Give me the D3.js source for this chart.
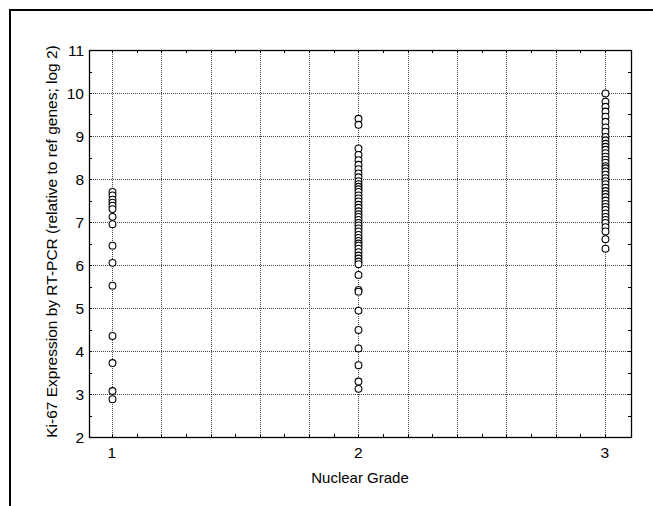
<!DOCTYPE html>
<html><head><meta charset="utf-8">
<script src="https://cdn.jsdelivr.net/npm/d3@7/dist/d3.min.js"></script>
<style>body{margin:0;background:#fff}svg{display:block}text{font-family:"Liberation Sans",Arial,sans-serif;fill:#000}</style>
</head><body>
<script>
const grades = [1, 2, 3];
const grade1 = [7.70, 7.62, 7.52, 7.45, 7.38, 7.30, 7.12, 6.95, 6.45, 6.05, 5.52, 4.35, 3.72, 3.07, 2.88];
const grade2 = [9.40, 9.26, 8.71, 8.56, 8.44, 8.33, 8.23, 8.13, 8.04, 7.95, 7.88, 7.82, 7.76, 7.70, 7.62, 7.55, 7.48, 7.40, 7.33, 7.25, 7.18, 7.12, 7.05, 6.98, 6.92, 6.85, 6.78, 6.70, 6.63, 6.56, 6.50, 6.45, 6.38, 6.30, 6.22, 6.15, 6.08, 6.02, 5.77, 5.42, 5.38, 4.94, 4.49, 4.06, 3.67, 3.29, 3.12];
const grade3 = [9.99, 9.80, 9.68, 9.57, 9.45, 9.33, 9.20, 9.10, 8.98, 8.90, 8.82, 8.75, 8.68, 8.60, 8.52, 8.45, 8.38, 8.30, 8.25, 8.18, 8.10, 8.02, 7.95, 7.88, 7.80, 7.72, 7.65, 7.58, 7.50, 7.42, 7.35, 7.28, 7.20, 7.12, 7.05, 6.98, 6.88, 6.78, 6.60, 6.38];
const yTicks = [2, 3, 4, 5, 6, 7, 8, 9, 10, 11];
const xTickLabels = ["1", "2", "3"];
const xLabel = "Nuclear Grade";
const yLabel = "Ki-67 Expression by RT-PCR (relative to ref genes; log 2)";

const W = 653, H = 506;
const L = 89, R = 631, T = 50, B = 437;
const svg = d3.select("body").append("svg").attr("width", W).attr("height", H);

const x = d3.scaleLinear().domain([0.907, 3.106]).range([L, R]);
const y = d3.scaleLinear().domain([2, 11]).range([B, T]);

svg.append("path").attr("d", `M10,${H} L10,10 L${W},10`).attr("fill", "none").attr("stroke", "#000").attr("stroke-width", 2);

const xGrid = d3.range(1, 3.01, 0.2).map(v => +v.toFixed(2));
const g = svg.append("g");
g.selectAll(".vg").data(xGrid).join("line")
  .attr("x1", d => Math.round(x(d)) + 0.5).attr("x2", d => Math.round(x(d)) + 0.5)
  .attr("y1", T).attr("y2", B)
  .attr("stroke", "#444").attr("stroke-width", 1).attr("stroke-dasharray", "1,1");
g.selectAll(".hg").data(yTicks.slice(1, -1)).join("line")
  .attr("x1", L).attr("x2", R)
  .attr("y1", d => Math.round(y(d)) + 0.5).attr("y2", d => Math.round(y(d)) + 0.5)
  .attr("stroke", "#444").attr("stroke-width", 1).attr("stroke-dasharray", "1,1");

const xTicksAll = d3.range(1, 3.05, 0.1).map(v => +v.toFixed(2));
svg.append("g").selectAll("line").data(xTicksAll).join("line")
  .attr("x1", d => Math.round(x(d)) + 0.5).attr("x2", d => Math.round(x(d)) + 0.5)
  .attr("y1", B).attr("y2", B - 3).attr("stroke", "#000");
svg.append("g").selectAll("line").data(xTicksAll).join("line")
  .attr("x1", d => Math.round(x(d)) + 0.5).attr("x2", d => Math.round(x(d)) + 0.5)
  .attr("y1", T).attr("y2", T + 3).attr("stroke", "#000");
const yMinor = d3.range(2.5, 11, 0.5);
svg.append("g").selectAll("line").data(yMinor).join("line")
  .attr("x1", R).attr("x2", R - 3)
  .attr("y1", d => Math.round(y(d)) + 0.5).attr("y2", d => Math.round(y(d)) + 0.5).attr("stroke", "#000");
svg.append("g").selectAll("line").data(yMinor).join("line")
  .attr("x1", L).attr("x2", L + 3)
  .attr("y1", d => Math.round(y(d)) + 0.5).attr("y2", d => Math.round(y(d)) + 0.5).attr("stroke", "#000");

svg.append("rect").attr("x", L + 0.5).attr("y", T + 0.5).attr("width", R - L).attr("height", B - T)
  .attr("fill", "none").attr("stroke", "#000").attr("stroke-width", 1.3);

svg.append("g").selectAll("text").data(yTicks).join("text")
  .attr("x", L - 5).attr("y", d => y(d) + 5.5).attr("text-anchor", "end")
  .attr("font-size", 15.5).text(d => d);
svg.append("g").selectAll("text").data(grades).join("text")
  .attr("x", d => x(d)).attr("y", 458).attr("text-anchor", "middle")
  .attr("font-size", 15.5).text((d, i) => xTickLabels[i]);
svg.append("text").attr("x", (L + R) / 2).attr("y", 483).attr("text-anchor", "middle")
  .attr("font-size", 15).text(xLabel);
svg.append("text").attr("transform", `translate(57,${(T + B) / 2 - 2}) rotate(-90)`)
  .attr("text-anchor", "middle").attr("font-size", 15.5).text(yLabel);

const pts = [];
[grade1, grade2, grade3].forEach((arr, i) => arr.forEach(v => pts.push({g: grades[i], v})));
svg.append("g").selectAll("circle").data(pts).join("circle")
  .attr("cx", d => Math.round(x(d.g)) + 0.5).attr("cy", d => y(d.v)).attr("r", 3.4)
  .attr("fill", "#fff").attr("stroke", "#000").attr("stroke-width", 1.1);
</script>
</body></html>
